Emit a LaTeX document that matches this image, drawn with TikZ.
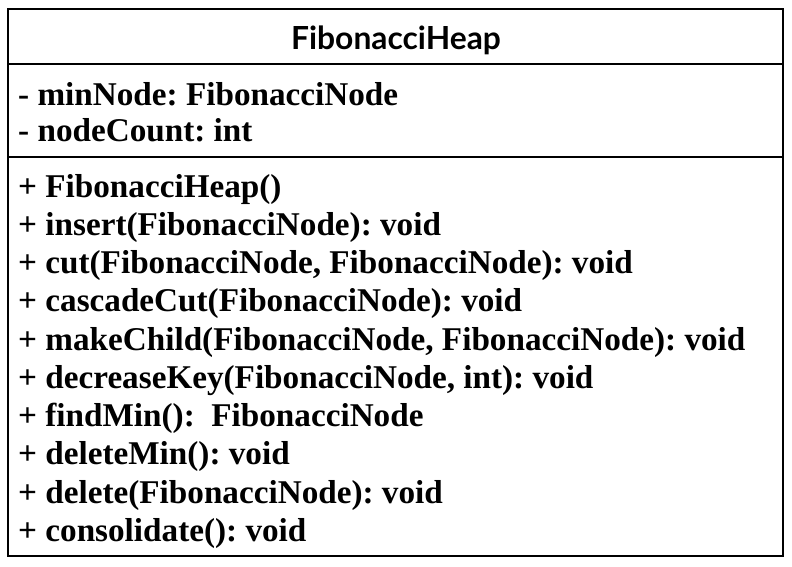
\documentclass[tikz,border=0pt]{standalone}
\usepackage{fontspec}
\setmainfont{Liberation Serif}
\newfontfamily\titlefont{Lato}
\usetikzlibrary{positioning}
\frenchspacing

\begin{document}
\begin{tikzpicture}[x=1pt,y=-1pt,
		member/.style={anchor=base west, inner sep=0pt, font=\bfseries\fontsize{33.2}{33.2}\selectfont},
		classname/.style={anchor=base, inner sep=0pt, font=\titlefont\bfseries\fontsize{31.8}{31.8}\selectfont}]
			\useasboundingbox (0,0) rectangle (792,566);
			\draw [line width=1.2pt] (8,9) rectangle (783,556);
			\draw [line width=1.2pt] (8,64) -- (783,64);
			\draw [line width=1.2pt] (8,157) -- (783,157);
			\node [classname] (name) at (396,49) {FibonacciHeap};
			\node [member] (minnode) at (18,105) {- minNode: FibonacciNode};
			\node [member] (count) at (18,141) {- nodeCount: int};
			\node [member] (ctor) at (18,197) {+ FibonacciHeap()};
			\node [member] (insert) at (18,235) {+ insert(FibonacciNode): void};
			\node [member] (cut) at (18,273) {+ cut(FibonacciNode, FibonacciNode): void};
			\node [member] (cascade) at (18,311) {+ cascadeCut(FibonacciNode): void};
			\node [member] (child) at (18,350) {+ makeChild(FibonacciNode, FibonacciNode): void};
			\node [member] (decrease) at (18,388) {+ decreaseKey(FibonacciNode, int): void};
			\node [member] (findmin) at (18,426) {+ findMin():\ \ FibonacciNode};
			\node [member] (delmin) at (18,464) {+ deleteMin(): void};
			\node [member] (delete) at (18,503) {+ delete(FibonacciNode): void};
			\node [member] (consol) at (18,541) {+ consolidate(): void};
		\end{tikzpicture}
\end{document}
